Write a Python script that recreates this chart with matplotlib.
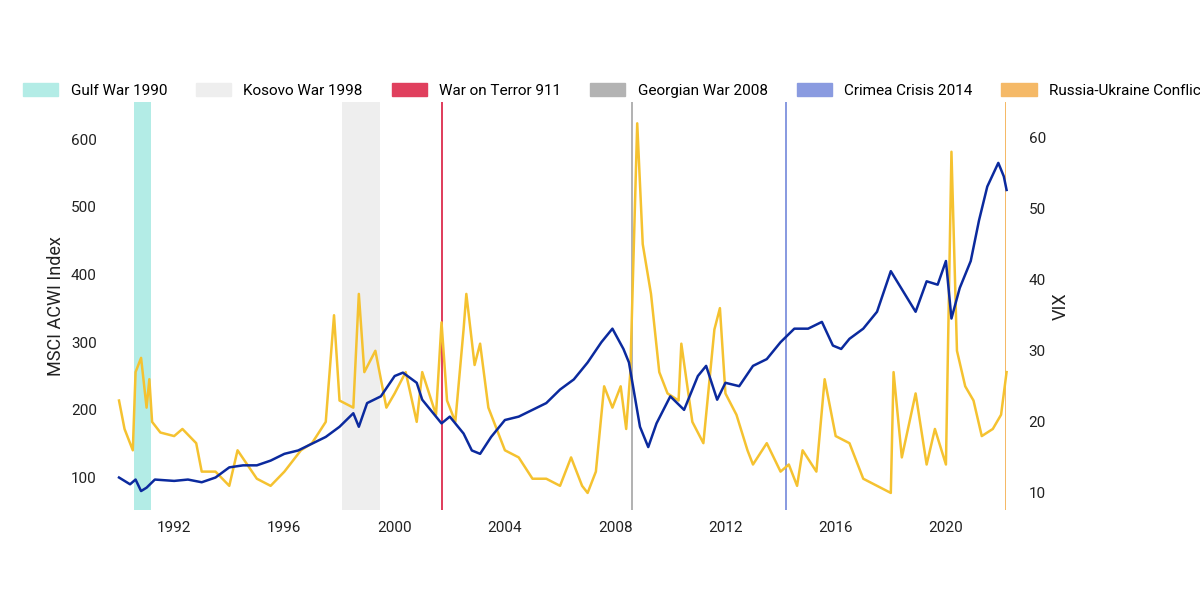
import matplotlib.pyplot as plt
from matplotlib.patches import Patch
import numpy as np

plt.rcParams['font.family'] = ['Roboto', 'DejaVu Sans']

msci_t = [1990.0, 1990.4, 1990.6, 1990.8, 1991.0, 1991.3, 1992, 1992.5, 1993, 1993.5, 1994, 1994.5, 1995, 1995.5,
          1996, 1996.5, 1997, 1997.5, 1998, 1998.5, 1998.7, 1999, 1999.5, 2000, 2000.3, 2000.8, 2001, 2001.7, 2002,
          2002.5, 2002.8, 2003.1, 2003.5, 2004, 2004.5, 2005, 2005.5, 2006, 2006.5, 2007, 2007.5, 2007.9, 2008.3,
          2008.5, 2008.9, 2009.2, 2009.5, 2010, 2010.5, 2011, 2011.3, 2011.7, 2012, 2012.5, 2013, 2013.5, 2014,
          2014.5, 2015, 2015.5, 2015.9, 2016.2, 2016.5, 2017, 2017.5, 2018, 2018.3, 2018.9, 2019.3, 2019.7, 2020,
          2020.2, 2020.5, 2020.9, 2021.2, 2021.5, 2021.9, 2022.1, 2022.2]
msci_v = [100, 90, 97, 80, 85, 97, 95, 97, 93, 100, 115, 118, 118, 125, 135, 140, 150, 160, 175, 195, 175, 210,
          220, 250, 255, 240, 215, 180, 190, 165, 140, 135, 160, 185, 190, 200, 210, 230, 245, 270, 300, 320, 290,
          270, 175, 145, 180, 220, 200, 250, 265, 215, 240, 235, 265, 275, 300, 320, 320, 330, 295, 290, 305, 320,
          345, 405, 385, 345, 390, 385, 420, 335, 380, 420, 480, 530, 565, 545, 525]

vix_t = [1990.0, 1990.2, 1990.5, 1990.6, 1990.8, 1991.0, 1991.1, 1991.2, 1991.5, 1992, 1992.3, 1992.8, 1993, 1993.5,
         1994, 1994.3, 1995, 1995.5, 1996, 1996.6, 1997, 1997.5, 1997.8, 1998.0, 1998.5, 1998.7, 1998.9, 1999.3,
         1999.7, 2000, 2000.4, 2000.8, 2001.0, 2001.5, 2001.7, 2001.9, 2002.2, 2002.5, 2002.6, 2002.9, 2003.1,
         2003.4, 2003.7, 2004, 2004.5, 2005, 2005.5, 2006, 2006.4, 2006.8, 2007, 2007.3, 2007.6, 2007.9, 2008.2,
         2008.4, 2008.55, 2008.8, 2009, 2009.3, 2009.6, 2009.9, 2010.3, 2010.4, 2010.8, 2011.2, 2011.6, 2011.8,
         2012, 2012.4, 2012.8, 2013, 2013.5, 2014, 2014.3, 2014.6, 2014.8, 2015.3, 2015.6, 2016, 2016.5, 2017,
         2017.5, 2018, 2018.1, 2018.4, 2018.9, 2019.3, 2019.6, 2020, 2020.2, 2020.4, 2020.7, 2021, 2021.3, 2021.7,
         2022.0, 2022.2]
vix_v = [23, 19, 16, 27, 29, 22, 26, 20, 18.5, 18, 19, 17, 13, 13, 11, 16, 12, 11, 13, 16, 17, 20, 35, 23, 22, 38,
         27, 30, 22, 24, 27, 20, 27, 21, 34, 23, 20, 33, 38, 28, 31, 22, 19, 16, 15, 12, 12, 11, 15, 11, 10, 13, 25,
         22, 25, 19, 27, 62, 45, 38, 27, 24, 23, 31, 20, 17, 33, 36, 24, 21, 16, 14, 17, 13, 14, 11, 16, 13, 26, 18,
         17, 12, 11, 10, 27, 15, 24, 14, 19, 14, 58, 30, 25, 23, 18, 19, 21, 27]

events = ["Gulf War 1990", "Kosovo War 1998", "War on Terror 911", "Georgian War 2008",
          "Crimea Crisis 2014", "Russia-Ukraine Conflict"]
event_start = [1990.55, 1998.1, 2001.68, 2008.57, 2014.15, 2022.13]
event_end = [1991.15, 1999.45, 2001.74, 2008.65, 2014.25, 2022.17]
event_colors = ["#b3ece6", "#eeeeee", "#e0405e", "#b3b3b3", "#8a9be0", "#f5b967"]

fig = plt.figure(figsize=(12, 6), dpi=100)
ax = fig.add_axes([0.09, 0.15, 0.758, 0.68])
ax2 = ax.twinx()
for s, e, c in zip(event_start, event_end, event_colors):
    ax2.axvspan(s, e, color=c, lw=0, zorder=0)
ax.plot(msci_t, msci_v, color="#0b2a9e", lw=1.8, zorder=3)
ax.set_ylim(52, 655)
ax.set_xlim(1989.6, 2022.6)
ax.set_yticks([100, 200, 300, 400, 500, 600])
ax.set_xticks(range(1992, 2021, 4))
ax.set_ylabel("MSCI ACWI Index", fontsize=13, color="#222")

ax2.plot(vix_t, vix_v, color="#f5c230", lw=1.8, zorder=2)
ax2.set_ylim(7.6, 65)
ax2.set_yticks([10, 20, 30, 40, 50, 60])
ax2.set_ylabel("VIX", fontsize=13, color="#222")
ax.set_zorder(ax2.get_zorder() + 1)
ax.patch.set_visible(False)

for a in (ax, ax2):
    for sp in a.spines.values():
        sp.set_visible(False)
    a.tick_params(length=0, labelsize=11, colors="#222", pad=8)

handles = [Patch(color=c) for c in event_colors]
fig.legend(handles, events, loc="upper center", bbox_to_anchor=(0.512, 0.885), ncol=6, frameon=False,
           fontsize=11, handlelength=2.3, handleheight=1, columnspacing=1.9, handletextpad=0.8)

fig.savefig("out.png")
